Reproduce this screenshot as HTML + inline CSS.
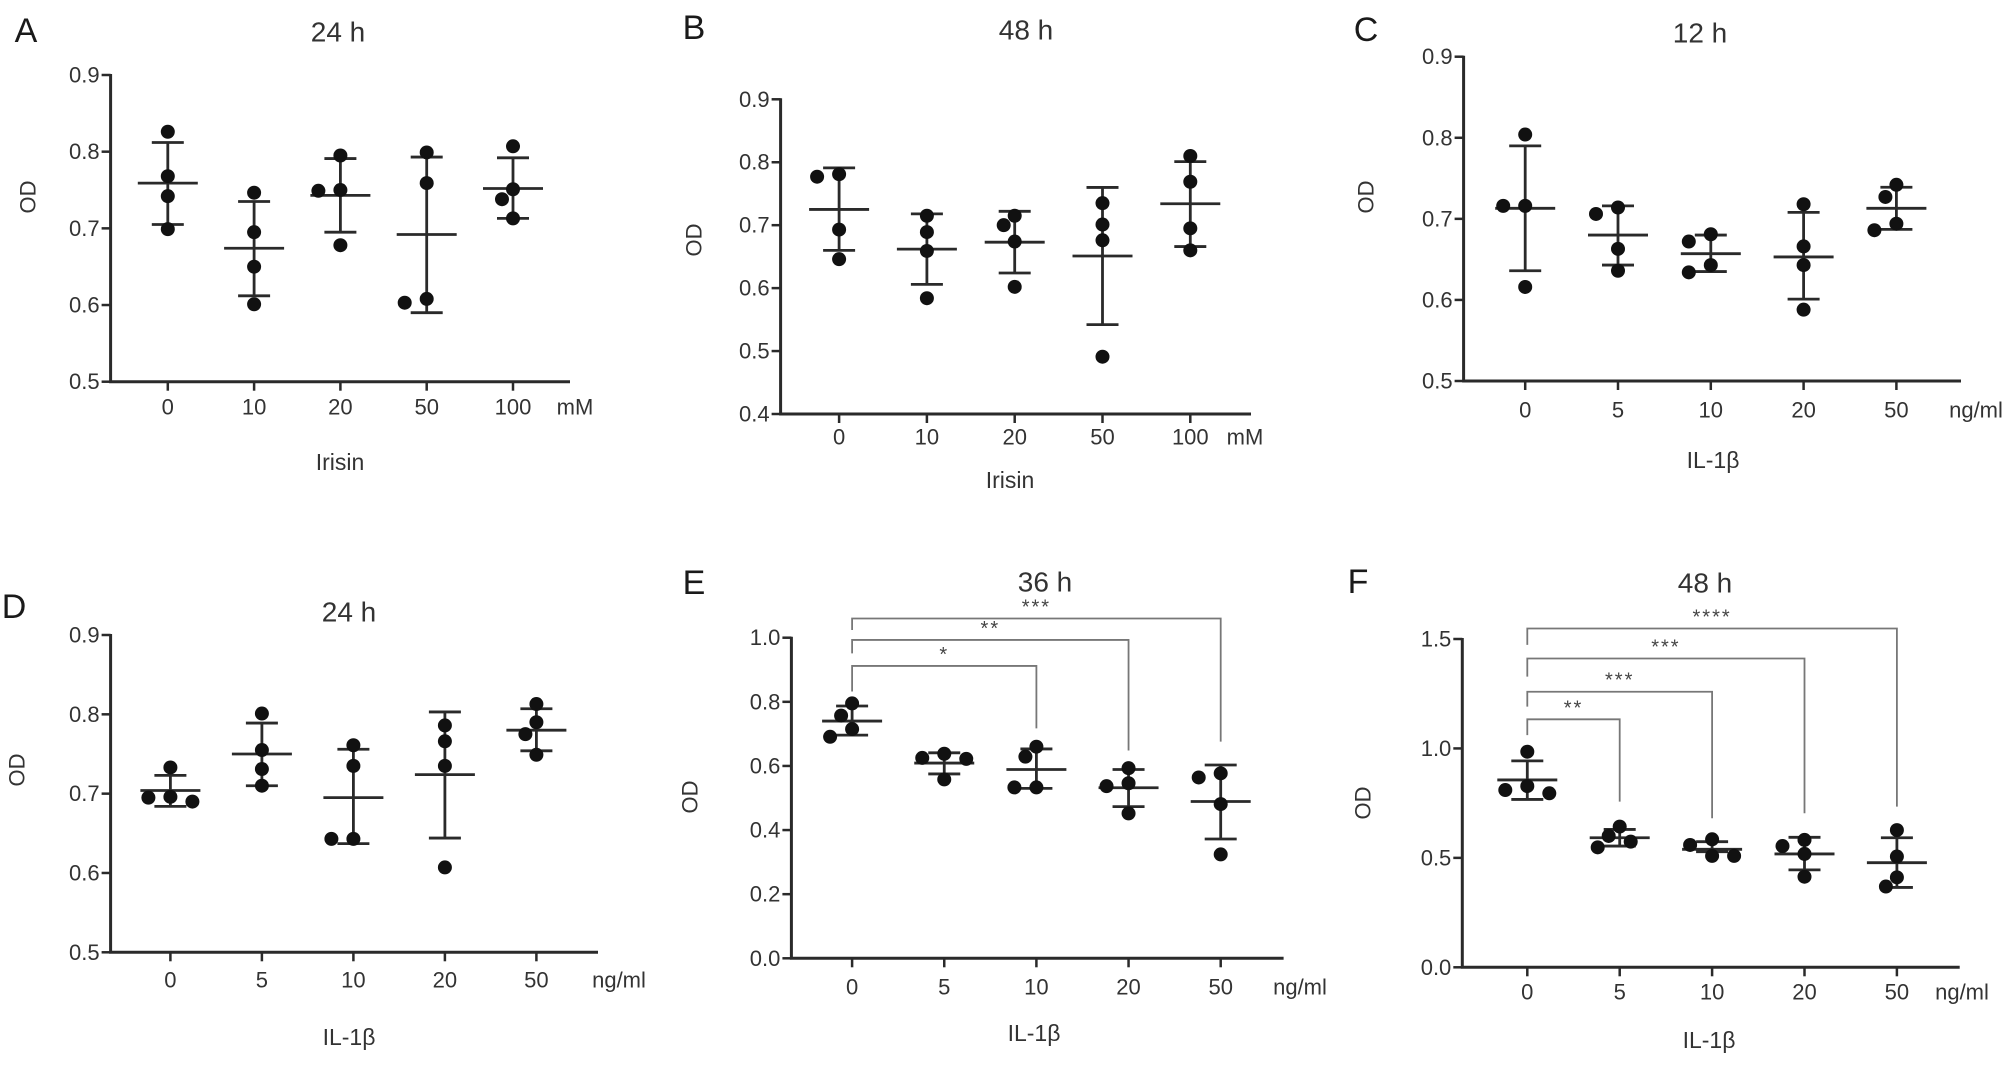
<!DOCTYPE html>
<html><head><meta charset="utf-8">
<style>
html,body{margin:0;padding:0;background:#fff;}
svg{display:block;font-family:"Liberation Sans",sans-serif;}
</style></head>
<body>
<svg id="fig" width="2008" height="1074" viewBox="0 0 2008 1074" xmlns="http://www.w3.org/2000/svg"></svg>
<script>
// ---------- DATA ----------
const catsIrisin = ["0","10","20","50","100"];
const catsIL = ["0","5","10","20","50"];

const ptsA = [[0.826,0.768,0.742,0.699],[0.7465,0.695,0.650,0.601],[0.795,0.750,0.749,0.678],[0.799,0.759,0.603,0.608],[0.807,0.751,0.738,0.713]];
const meanA = [0.759,0.674,0.743,0.692,0.752];
const errHiA = [0.812,0.735,0.791,0.793,0.792];
const errLoA = [0.705,0.612,0.695,0.590,0.713];

const ptsB = [[0.777,0.781,0.693,0.646],[0.715,0.689,0.659,0.584],[0.715,0.700,0.674,0.602],[0.735,0.701,0.676,0.491],[0.810,0.769,0.695,0.660]];
const meanB = [0.725,0.662,0.673,0.651,0.734];
const errHiB = [0.791,0.718,0.722,0.760,0.801];
const errLoB = [0.660,0.606,0.624,0.542,0.666];

const ptsC = [[0.804,0.716,0.716,0.616],[0.714,0.706,0.663,0.636],[0.681,0.672,0.643,0.634],[0.718,0.666,0.643,0.588],[0.742,0.727,0.694,0.686]];
const meanC = [0.713,0.680,0.657,0.653,0.713];
const errHiC = [0.790,0.716,0.680,0.708,0.739];
const errLoC = [0.636,0.643,0.635,0.601,0.687];

const ptsD = [[0.733,0.696,0.690,0.695],[0.801,0.755,0.731,0.710],[0.761,0.735,0.643,0.643],[0.786,0.766,0.735,0.607],[0.813,0.790,0.775,0.749]];
const meanD = [0.704,0.750,0.695,0.724,0.780];
const errHiD = [0.723,0.789,0.756,0.803,0.807];
const errLoD = [0.684,0.710,0.637,0.644,0.754];

const ptsE = [[0.795,0.757,0.715,0.691],[0.638,0.622,0.625,0.558],[0.660,0.629,0.533,0.533],[0.593,0.546,0.537,0.452],[0.577,0.564,0.481,0.324]];
const meanE = [0.740,0.609,0.589,0.532,0.489];
const errHiE = [0.787,0.641,0.653,0.589,0.603];
const errLoE = [0.696,0.575,0.530,0.473,0.372];
const brTargetE = [2,3,4];
const brLevelE = [0.912,0.993,1.060];
const brEndE = [0.717,0.648,0.676];
const brStartE = [0.832,0.951,1.024];
const brLabelE = ["*","**","***"];

const ptsF = [[0.985,0.828,0.795,0.810],[0.643,0.600,0.574,0.548],[0.585,0.559,0.509,0.509],[0.582,0.554,0.518,0.414],[0.627,0.506,0.411,0.369]];
const meanF = [0.856,0.592,0.539,0.518,0.478];
const errHiF = [0.943,0.630,0.574,0.594,0.592];
const errLoF = [0.767,0.554,0.528,0.445,0.365];
const brTargetF = [1,2,3,4];
const brLevelF = [1.133,1.259,1.411,1.548];
const brEndF = [0.757,0.681,0.704,0.734];
const brStartF = [1.061,1.191,1.328,1.473];
const brLabelF = ["**","***","***","****"];

const yTicksA = ["0.5","0.6","0.7","0.8","0.9"];
const yTicksB = ["0.4","0.5","0.6","0.7","0.8","0.9"];
const yTicksE = ["0.0","0.2","0.4","0.6","0.8","1.0"];
const yTicksF = ["0.0","0.5","1.0","1.5"];

// ---------- LAYOUT ----------
const NS = "http://www.w3.org/2000/svg";
const svg = document.getElementById("fig");
const INK = "#2a2a2a", TXT = "#333";
function mk(tag, attrs, parent){const e=document.createElementNS(NS,tag);for(const k in attrs)e.setAttribute(k,attrs[k]);(parent||svg).appendChild(e);return e;}

const panels = [
 {id:"a",letter:"A",title:"24 h",xlab:"Irisin",unit:"mM",cats:catsIrisin,pts:ptsA,mean:meanA,hi:errHiA,lo:errLoA,ticks:yTicksA,ymin:0.5,ymax:0.9,
  ax:110.6,yTop:75,yBot:381.7,x0:167.8,dx:86.3,xEnd:570,unitX:575,tickY:407,titleX:338,titleY:32,letX:26,letY:31,xlX:340,xlY:462,odX:28,odY:197},
 {id:"b",letter:"B",title:"48 h",xlab:"Irisin",unit:"mM",cats:catsIrisin,pts:ptsB,mean:meanB,hi:errHiB,lo:errLoB,ticks:yTicksB,ymin:0.4,ymax:0.9,
  ax:780.6,yTop:99.3,yBot:414,x0:839.1,dx:87.8,xEnd:1251,unitX:1245,tickY:437,titleX:1026,titleY:30,letX:694,letY:28,xlX:1010,xlY:480,odX:694,odY:240},
 {id:"c",letter:"C",title:"12 h",xlab:"IL-1β",unit:"ng/ml",cats:catsIL,pts:ptsC,mean:meanC,hi:errHiC,lo:errLoC,ticks:yTicksA,ymin:0.5,ymax:0.9,
  ax:1463.6,yTop:56.7,yBot:381,x0:1525.2,dx:92.8,xEnd:1961,unitX:1976,tickY:410,titleX:1700,titleY:33,letX:1366,letY:30,xlX:1713,xlY:460,odX:1366,odY:197},
 {id:"d",letter:"D",title:"24 h",xlab:"IL-1β",unit:"ng/ml",cats:catsIL,pts:ptsD,mean:meanD,hi:errHiD,lo:errLoD,ticks:yTicksA,ymin:0.5,ymax:0.9,
  ax:110.6,yTop:635,yBot:952.3,x0:170.4,dx:91.5,xEnd:598,unitX:619,tickY:980,titleX:349,titleY:612,letX:14,letY:607,xlX:349,xlY:1037,odX:17,odY:770},
 {id:"e",letter:"E",title:"36 h",xlab:"IL-1β",unit:"ng/ml",cats:catsIL,pts:ptsE,mean:meanE,hi:errHiE,lo:errLoE,ticks:yTicksE,ymin:0,ymax:1.0,
  ax:791.4,yTop:637.7,yBot:958.3,x0:852.1,dx:92.15,xEnd:1283.6,unitX:1300,tickY:987,titleX:1045,titleY:582,letX:694,letY:583,xlX:1034,xlY:1033,odX:690,odY:797,
  br:{t:brTargetE,lv:brLevelE,en:brEndE,st:brStartE,lb:brLabelE}},
 {id:"f",letter:"F",title:"48 h",xlab:"IL-1β",unit:"ng/ml",cats:catsIL,pts:ptsF,mean:meanF,hi:errHiF,lo:errLoF,ticks:yTicksF,ymin:0,ymax:1.5,
  ax:1462.3,yTop:639,yBot:967.3,x0:1527.3,dx:92.4,xEnd:1959.7,unitX:1962,tickY:992,titleX:1705,titleY:583,letX:1358,letY:582,xlX:1709,xlY:1040,odX:1363,odY:803,
  br:{t:brTargetF,lv:brLevelF,en:brEndF,st:brStartF,lb:brLabelF}}
];

panels.forEach(p=>{
  const g = mk("g",{});
  
  
  const y = v => p.yBot - (v - p.ymin)/(p.ymax - p.ymin)*(p.yBot - p.yTop);
  const x = i => p.x0 + i*p.dx;

  let t = mk("text",{x:p.letX,y:p.letY,"font-size":34,fill:"#1a1a1a","text-anchor":"middle","dominant-baseline":"central"},g);
  t.textContent=p.letter;
  
  
  t = mk("text",{x:p.titleX,y:p.titleY,"font-size":28,fill:TXT,"text-anchor":"middle","dominant-baseline":"central"},g);
  t.textContent=p.title;
  
  
  t = mk("text",{x:p.xlX,y:p.xlY,"font-size":23,fill:TXT,"text-anchor":"middle","dominant-baseline":"central"},g);
  t.textContent=p.xlab;
  
  
  t = mk("text",{x:p.odX,y:p.odY,"font-size":22,fill:TXT,"text-anchor":"middle","dominant-baseline":"central",transform:`rotate(-90 ${p.odX} ${p.odY})`},g);
  t.textContent="OD";
  
  

  const axis = mk("path",{d:`M${p.ax},${p.yTop-1} L${p.ax},${p.yBot} L${p.xEnd},${p.yBot}`,fill:"none",stroke:INK,"stroke-width":3},g);
  
  
  p.ticks.forEach(lbl=>{
    const v = parseFloat(lbl), yy = y(v);
    const tk = mk("line",{x1:p.ax-9,x2:p.ax,y1:yy,y2:yy,stroke:INK,"stroke-width":2.5},g);
    
    
    const tl = mk("text",{x:p.ax-11,y:yy,"font-size":22,fill:TXT,"text-anchor":"end","dominant-baseline":"central"},g);
    tl.textContent=lbl;
    
    
  });
  p.cats.forEach((c,i)=>{
    const xx=x(i);
    const tk = mk("line",{x1:xx,x2:xx,y1:p.yBot,y2:p.yBot+9,stroke:INK,"stroke-width":2.5},g);
    
    
    const tl = mk("text",{x:xx,y:p.tickY,"font-size":22,fill:TXT,"text-anchor":"middle","dominant-baseline":"central"},g);
    tl.textContent=c;
    
    
  });
  const un = mk("text",{x:p.unitX,y:p.tickY,"font-size":22,fill:TXT,"text-anchor":"middle","dominant-baseline":"central"},g);
  un.textContent=p.unit;
  
  

  p.cats.forEach((c,i)=>{
    const cx=x(i);
    const gg = mk("g",{},g);
    
    
    const eb = mk("path",{d:`M${cx},${y(p.hi[i])} L${cx},${y(p.lo[i])} M${cx-16},${y(p.hi[i])} L${cx+16},${y(p.hi[i])} M${cx-16},${y(p.lo[i])} L${cx+16},${y(p.lo[i])}`,stroke:INK,"stroke-width":2.8,fill:"none"},gg);
    
    
    const ml = mk("line",{x1:cx-30,x2:cx+30,y1:y(p.mean[i]),y2:y(p.mean[i]),stroke:INK,"stroke-width":2.8},gg);
    
    
    const placed=[];
    const order = p.pts[i].map((v,k)=>k).sort((a,b)=>p.pts[i][b]-p.pts[i][a]);
    order.forEach(k=>{
      const py=y(p.pts[i][k]);
      const cands=[0,-11,11,-22,22];
      let off=0;
      for(const o of cands){
        if(placed.every(q=>Math.hypot(q[0]-(cx+o),q[1]-py)>=14)){off=o;break;}
      }
      placed.push([cx+off,py]);
      const d = mk("circle",{cx:cx+off,cy:py,r:7,fill:"#111"},gg);
      
      
    });
  });

  if(p.br){
    p.br.t.forEach((ti,j)=>{
      const x1=x(0), x2=x(ti), yl=y(p.br.lv[j]);
      const b = mk("path",{d:`M${x1},${y(p.br.st[j])} L${x1},${yl} L${x2},${yl} L${x2},${y(p.br.en[j])}`,fill:"none",stroke:"#777","stroke-width":1.8},g);
      
      
      const s = mk("text",{x:(x1+x2)/2,y:yl-5,"font-size":20,fill:"#444","text-anchor":"middle","letter-spacing":"2"},g);
      s.textContent=p.br.lb[j];
      
      
    });
  }
});
</script>
</body></html>
